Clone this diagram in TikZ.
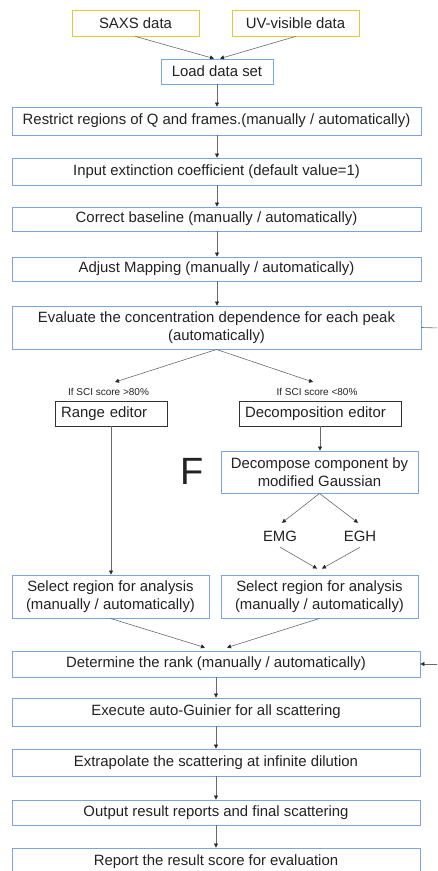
\documentclass[tikz,border=0pt]{standalone}
\usepackage{fontspec}
\setmainfont{Liberation Sans}
\usetikzlibrary{arrows.meta,calc}
\definecolor{bluebd}{HTML}{7BA4E6}
\definecolor{yellbd}{HTML}{F1C232}
\definecolor{linegray}{HTML}{6A6A6A}
\definecolor{txt}{HTML}{222222}
\begin{document}
\begin{tikzpicture}[x=1pt,y=-1pt,
  every node/.style={font=\fontsize{14.9}{18}\selectfont, text=txt},
  bx/.style 2 args={draw=bluebd, line width=0.9pt, inner sep=0pt, align=center, minimum width=#1pt, minimum height=#2pt},
  ybx/.style 2 args={draw=yellbd, line width=0.9pt, inner sep=0pt, align=center, minimum width=#1pt, minimum height=#2pt},
  kbx/.style 2 args={draw=black!80, line width=0.9pt, inner xsep=6pt, inner ysep=0pt, align=left, text width=#1pt-12pt, minimum height=#2pt},
  small/.style={font=\fontsize{10}{12}\selectfont},
  plain/.style={inner sep=0pt, minimum height=26pt},
  arr/.style={draw=linegray, line width=0.6pt, -{Triangle[length=4pt,width=4pt,color=black!85]}},
  ln/.style={draw=linegray, line width=0.6pt}]
\useasboundingbox (0,0) rectangle (437,871);
\clip (0,0) rectangle (437,871);
\fill[white] (0,0) rectangle (437,871);

\node[ybx={127}{26}] (saxs) at (135.5,23) {SAXS data};
\node[ybx={127}{26}] (uv) at (295.5,23) {UV-visible data};
\node[bx={112}{25}] (load) at (217,71.5) {Load data set};
\node[bx={409}{28}] (restrict) at (216.5,121) {Restrict regions of Q and frames.(manually / automatically)};
\node[bx={409}{27}] (input) at (216.5,171.5) {Input extinction coefficient (default value=1)};
\node[bx={409}{24}] (base) at (216.5,219) {Correct baseline (manually / automatically)};
\node[bx={409}{24}] (map) at (216.5,269) {Adjust Mapping (manually / automatically)};
\node[bx={409}{43}] (eval) at (216.5,327.5) {Evaluate the concentration dependence for each peak\\(automatically)};

\node[small, inner sep=0pt] (lab1) at (108.5,392) {If SCI score >80\%};
\node[small, inner sep=0pt] (lab2) at (317,392) {If SCI score <80\%};
\coordinate (t1) at (115,382);
\coordinate (t2) at (313,382);

\node[kbx={112}{25}] (range) at (111,413.5) {Range editor};
\node[kbx={162}{25}] (dedit) at (320,413.5) {Decomposition editor};
\node[bx={197}{42}] (decomp) at (319.5,472) {Decompose component by\\modified Gaussian};
\node[font=\fontsize{38}{40}\selectfont, inner sep=0pt] (F) at (192,471.5) {F};
\node[plain] (emg) at (280,536) {EMG};
\node[plain] (egh) at (360,536) {EGH};

\node[bx={197}{43}] (sel1) at (110.5,596.5) {Select region for analysis\\(manually / automatically)};
\node[bx={197}{43}] (sel2) at (319.5,596.5) {Select region for analysis\\(manually / automatically)};
\node[bx={408}{26}] (rank) at (216,664) {Determine the rank (manually / automatically)};
\node[bx={408}{28}] (exec) at (216,712) {Execute auto-Guinier for all scattering};
\node[bx={408}{27}] (extra) at (216,762.5) {Extrapolate the scattering at infinite dilution};
\node[bx={408}{25}] (out) at (216,812.5) {Output result reports and final scattering};
\node[bx={408}{28}] (report) at (216,862) {Report the result score for evaluation};

\coordinate (r1) at (440,328);
\coordinate (r2) at (440,664);

\draw[arr] (saxs.south) -- ([xshift=-3pt]load.north);
\draw[arr] (uv.south) -- ([xshift=3pt]load.north);
\draw[arr] (load.south) -- (load.south |- restrict.north);
\draw[arr] (restrict.south -| load.south) -- (input.north -| load.south);
\draw[arr] (input.south -| load.south) -- (base.north -| load.south);
\draw[arr] (base.south -| load.south) -- (map.north -| load.south);
\draw[arr] (map.south -| load.south) -- (eval.north -| load.south);
\draw[arr] (eval.south) -- (t1);
\draw[arr] (eval.south) -- (t2);
\draw[ln] (eval.east) -- (r1);
\draw[arr] (range.south) -- (range.south |- sel1.north);
\draw[arr] (dedit.south) -- (dedit.south |- decomp.north);
\draw[arr] (decomp.south) -- ([xshift=2pt]emg.north);
\draw[arr] (decomp.south) -- ([xshift=-2pt]egh.north);
\draw[arr] ([yshift=2pt]emg.south) -- ([xshift=-2.5pt,yshift=6pt]sel2.north);
\draw[arr] ([yshift=2pt]egh.south) -- ([xshift=2.5pt,yshift=6pt]sel2.north);
\draw[arr] (sel1.south) -- ([xshift=-11pt,yshift=3pt]rank.north);
\draw[arr] (sel2.south) -- ([xshift=11pt,yshift=3pt]rank.north);
\draw[arr] (r2) -- (rank.east);
\draw[arr] (rank.south) -- (exec.north);
\draw[arr] (exec.south) -- (extra.north);
\draw[arr] (extra.south) -- (out.north);
\draw[arr] (out.south) -- (report.north);
\end{tikzpicture}
\end{document}
